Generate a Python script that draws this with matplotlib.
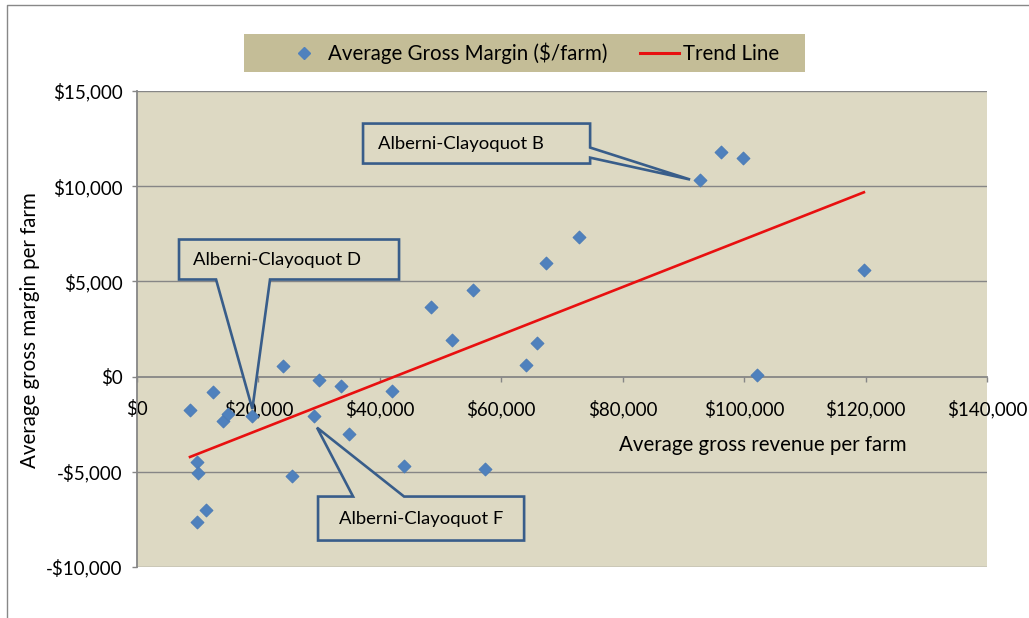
import numpy as np
import matplotlib
matplotlib.use("Agg")
import matplotlib.pyplot as plt
from matplotlib.patches import Polygon, Rectangle
from matplotlib.lines import Line2D
from matplotlib.ticker import FuncFormatter

plt.rcParams['font.family'] = ['Lato', 'DejaVu Sans']

# average gross revenue per farm ($) vs average gross margin per farm ($)
revenue = [8730, 9890, 10050, 9890, 11370, 12520, 14170, 14940, 18900, 24100,
           25590, 29930, 29210, 33610, 34930, 42060, 43990, 48380, 51840, 55360,
           57280, 64090, 65850, 67330, 72820, 92750, 96260, 99780, 102190, 119720]
margin = [-1730, -4460, -5050, -7620, -6990, -790, -2310, -1960, -2050, 580,
          -5220, -190, -2090, -490, -2990, -770, -4690, 3680, 1930, 4570,
          -4850, 630, 1790, 5950, 7350, 10330, 11820, 11490, 70, 5580]

trend_x = [8730, 119720]
trend_y = [-4220, 9680]

xticks = [0, 20000, 40000, 60000, 80000, 100000, 120000, 140000]
yticks = [-10000, -5000, 0, 5000, 10000, 15000]

# callout shapes (box + pointer) in data units
callouts = {
    "Alberni-Clayoquot B": dict(
        shape=[(37230, 13290), (74630, 13290), (74630, 12030), (91100, 10350),
               (74630, 11500), (74630, 11190), (37230, 11190)],
        text_xy=(39700, 12240), ha='left'),
    "Alberni-Clayoquot D": dict(
        shape=[(6920, 7200), (43160, 7200), (43160, 5100), (21910, 5100),
               (19000, -1700), (13020, 5100), (6920, 5100)],
        text_xy=(9200, 6150), ha='left'),
    "Alberni-Clayoquot F": dict(
        shape=[(29820, -6300), (35590, -6300), (29650, -2680), (43990, -6300),
               (63760, -6300), (63760, -8610), (29820, -8610)],
        text_xy=(46800, -7460), ha='center'),
}

W, H = 1029, 618
fig = plt.figure(figsize=(W / 100, H / 100), dpi=100)
ax = fig.add_axes([137 / W, 1 - 567 / H, 850 / W, 476 / H])
ax.set_facecolor('#ddd9c3')

grid_c = '#868686'
for yv in yticks:
    if yv != 0:
        ax.axhline(yv, color=grid_c, lw=1.0, zorder=1)

ax.plot(trend_x, trend_y, color='#e81010', lw=1.9, zorder=3, label='Trend Line')
ax.scatter(revenue, margin, marker='D', s=44, color='#4f81bd',
           edgecolor='#4a7ab5', linewidth=0.6, zorder=4,
           label='Average Gross Margin ($/farm)')

for txt, c in callouts.items():
    ax.add_patch(Polygon(c['shape'], closed=True, facecolor='#ddd9c3',
                         edgecolor='#385d8a', lw=1.9, zorder=5, joinstyle='miter'))
    ax.text(c['text_xy'][0], c['text_xy'][1], txt, ha=c['ha'], va='center',
            fontsize=13.3, color='black', zorder=6)

ax.set_xlim(0, 140000)
ax.set_ylim(-10000, 15000)
ax.set_xticks(xticks)
ax.set_yticks(yticks)
money = FuncFormatter(lambda v, p: ('-$' if v < 0 else '$') + f"{abs(int(v)):,}")
ax.xaxis.set_major_formatter(money)
ax.yaxis.set_major_formatter(money)

for s in ['top', 'right']:
    ax.spines[s].set_visible(False)
ax.spines['bottom'].set_position(('data', 0))
ax.spines['bottom'].set_color(grid_c)
ax.spines['left'].set_color(grid_c)
ax.spines['bottom'].set_linewidth(1.3)
ax.spines['left'].set_linewidth(1.3)
ax.spines['bottom'].set_zorder(2)

ax.tick_params(axis='x', direction='out', length=3.5, color=grid_c, width=1.0,
               pad=13, labelsize=13.5)
ax.tick_params(axis='y', direction='out', length=3.5, color=grid_c, width=1.0,
               pad=7, labelsize=13.5)

ax.set_xlabel('Average gross revenue per farm', fontsize=14.8)
ax.xaxis.set_label_coords((763 - 137) / 850, 1 - (445 - 91) / 476)
ax.xaxis.label.set_va('center')
ax.set_ylabel('Average gross margin per farm', fontsize=14.8)
ax.yaxis.set_label_coords((30 - 137) / 850, 1 - (330 - 91) / 476)
ax.yaxis.label.set_va('center')

# legend band
fig.add_artist(Rectangle((244 / W, 1 - 72 / H), 561 / W, 38 / H,
                         transform=fig.transFigure, facecolor='#c4bd97',
                         edgecolor='none', zorder=0))
handles = [Line2D([], [], marker='D', ls='none', color='#4f81bd', markersize=6.5),
           Line2D([], [], color='#e81010', lw=2.2)]
fig.legend(handles, ['Average Gross Margin ($/farm)', 'Trend Line'],
           loc='center', bbox_to_anchor=(532 / W, 1 - 53 / H), ncol=2,
           frameon=False, fontsize=14.8, handlelength=1.9, handletextpad=0.2,
           columnspacing=1.6)

# chart area border
fig.add_artist(Line2D([7 / W, 7 / W, 1], [0, 1 - 5 / H, 1 - 5 / H],
                      transform=fig.transFigure, color='#888888', lw=1.0))

fig.savefig('out.png', dpi=100)
